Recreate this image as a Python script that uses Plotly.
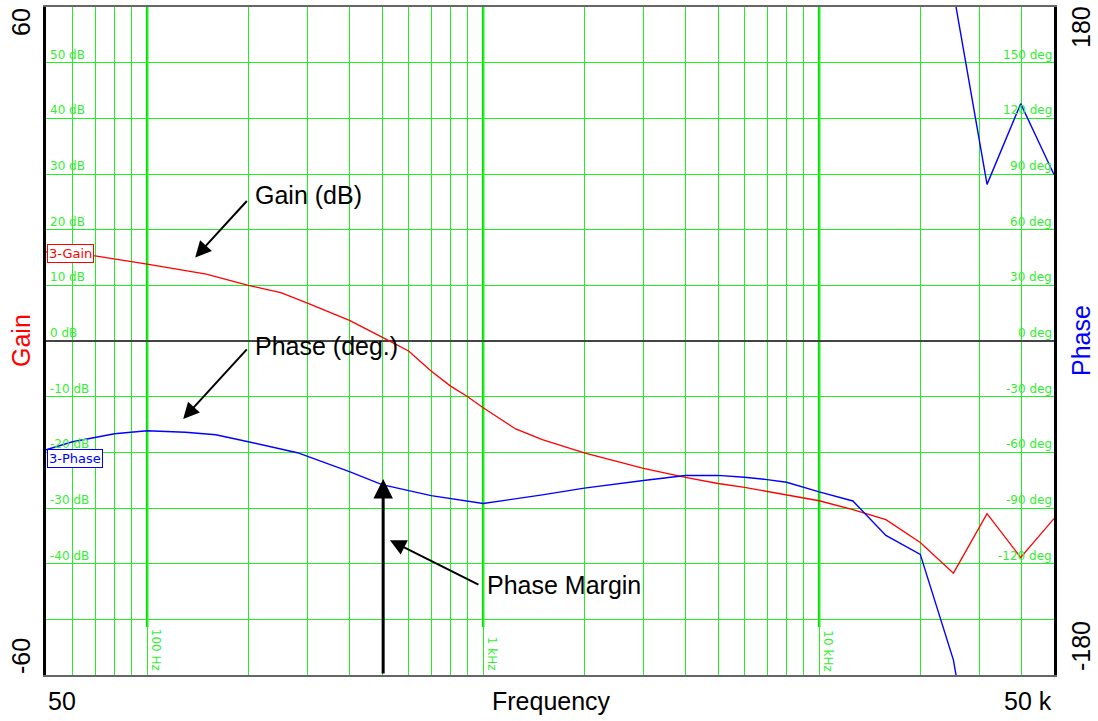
import math
import plotly.graph_objects as go

# ---- data ----
gain_freq = [50, 60, 70, 100, 150, 200, 250, 300, 400, 500, 600, 700, 800, 900,
             1000, 1250, 1500, 2000, 3000, 4000, 5000, 6000, 7000, 8000, 10000,
             12600, 15800, 20000, 25100, 31600, 39800, 50000]
gain_db = [16.0, 15.6, 15.3, 13.8, 12.0, 10.0, 8.7, 6.8, 3.7, 0.7, -1.8, -5.4, -8.1, -10.0,
           -12.0, -15.8, -17.7, -20.1, -22.9, -24.5, -25.6, -26.3, -27.0, -27.6, -28.7,
           -30.3, -32.1, -36.2, -41.7, -31.0, -38.9, -31.9]

phase_freq = [50, 60, 80, 100, 130, 160, 200, 280, 400, 500, 700, 1000, 1500, 2000,
              3000, 4000, 5000, 6000, 7000, 8000, 10000, 12600, 15800, 20000,
              25100, 31600, 39800, 50000]
# unwrapped phase (deg); values below -180 reappear from the top
phase_deg = [-58.6, -54.3, -50.0, -48.4, -49.2, -50.5, -54.3, -60.2, -70.4, -77.4,
             -83.3, -87.6, -82.9, -79.3, -75.2, -72.5, -72.4, -73.4, -74.7, -76.1,
             -81.3, -86.2, -104.8, -115.0, -172.0, -275.6, -232.1, -270.3]

gain_ticks = [50, 40, 30, 20, 10, 0, -10, -20, -30, -40]
phase_ticks = [150, 120, 90, 60, 30, 0, -30, -60, -90, -120]
decade_freqs = [100, 1000, 10000]
decade_labels = ["100 Hz", "1 kHz", "10 kHz"]

F_MIN, F_MAX = 50, 50000
GRID = "#22f022"
GRID_TXT = "#33ee33"
MAIN_FONT = "Liberation Sans, Arial, sans-serif"
GRID_FONT = "DejaVu Sans, Verdana, sans-serif"


def xfrac(f):
    return (math.log10(f) - math.log10(F_MIN)) / (math.log10(F_MAX) - math.log10(F_MIN))


fig = go.Figure()

fig.add_trace(go.Scatter(x=gain_freq, y=gain_db, mode="lines",
                         line=dict(color="#ff0000", width=1.3), yaxis="y",
                         showlegend=False, hoverinfo="skip"))
fig.add_trace(go.Scatter(x=phase_freq, y=phase_deg, mode="lines",
                         line=dict(color="#0000ff", width=1.4), yaxis="y2",
                         showlegend=False, hoverinfo="skip"))
# wrapped copy (+360) so the part below -180 shows up from the top
fig.add_trace(go.Scatter(x=phase_freq, y=[p + 360 for p in phase_deg], mode="lines",
                         line=dict(color="#0000ff", width=1.4), yaxis="y2",
                         showlegend=False, hoverinfo="skip"))

shapes = []
for f in decade_freqs:
    shapes.append(dict(type="line", xref="x domain", yref="y domain",
                       x0=xfrac(f), x1=xfrac(f), y0=0.072, y1=1,
                       line=dict(color="#00e000", width=2.5), layer="below"))

ann = []
# grid value labels
for g in gain_ticks:
    ann.append(dict(x=0, xref="paper", y=g, yref="y", text=f"{g} dB",
                    xanchor="left", yanchor="bottom", xshift=3, showarrow=False,
                    borderpad=0,
                    font=dict(family=GRID_FONT, size=12, color=GRID_TXT)))
for p in phase_ticks:
    ann.append(dict(x=1, xref="paper", y=p, yref="y2", text=f"{p} deg",
                    xanchor="right", yanchor="bottom", xshift=-1, showarrow=False,
                    borderpad=0,
                    font=dict(family=GRID_FONT, size=12, color=GRID_TXT)))
for f, lab in zip(decade_freqs, decade_labels):
    ann.append(dict(x=math.log10(f), xref="x", y=0, yref="paper", text=lab,
                    textangle=90, xanchor="left", yanchor="bottom", xshift=1, yshift=3,
                    showarrow=False, bgcolor="white", borderpad=0,
                    font=dict(family=GRID_FONT, size=12, color=GRID_TXT)))

# trace tags
ann.append(dict(x=0, xref="paper", y=gain_db[0] - 0.3, yref="y", text="3-Gain",
                xanchor="left", yanchor="middle", xshift=1, showarrow=False,
                bgcolor="white", bordercolor="#ff0000", borderwidth=1, borderpad=1,
                font=dict(family=GRID_FONT, size=13, color="#ff0000")))
ann.append(dict(x=0, xref="paper", y=-21.1, yref="y", text="3-Phase",
                xanchor="left", yanchor="middle", xshift=1, showarrow=False,
                bgcolor="white", bordercolor="#0000ff", borderwidth=1, borderpad=1,
                font=dict(family=GRID_FONT, size=13, color="#0000ff")))

# callouts
txt_font = dict(family=MAIN_FONT, size=25, color="black")
ann.append(dict(x=math.log10(207), xref="x", y=26.3, yref="y", text="Gain (dB)",
                xanchor="left", yanchor="middle", showarrow=False, font=txt_font))
ann.append(dict(x=math.log10(207), xref="x", y=-0.9, yref="y", text="Phase (deg.)",
                xanchor="left", yanchor="middle", showarrow=False, font=txt_font))
ann.append(dict(x=math.log10(1013), xref="x", y=-43.9, yref="y", text="Phase Margin",
                xanchor="left", yanchor="middle", showarrow=False, font=txt_font))

arrow = dict(showarrow=True, text="", arrowhead=2, arrowsize=1.6, arrowwidth=2,
             arrowcolor="black", xref="x", yref="y")
ann.append(dict(arrow, x=math.log10(139), y=15.0, ax=53, ay=-58))
ann.append(dict(arrow, x=math.log10(128), y=-14.0, ax=65, ay=-71))
ann.append(dict(arrow, x=math.log10(528), y=-35.8, ax=90, ay=45))
ann.append(dict(arrow, x=math.log10(504), y=-24.8, ax=0, ay=196,
                arrowwidth=3, arrowsize=1.3))

# outer axis texts
out_font = dict(family=MAIN_FONT, size=25, color="black")


def px(xp, yp):
    return (xp - 46) / 1008, (675 - yp) / 670


for t, (xp, yp), ang, col in [("60", (21, 20), -90, "black"),
                              ("-60", (21, 656), -90, "black"),
                              ("Gain", (21, 340), -90, "#ff0000"),
                              ("180", (1081, 25), -90, "black"),
                              ("-180", (1081, 646), -90, "black"),
                              ("Phase", (1081, 340), -90, "#0000ff"),
                              ("50", (62, 701), 0, "black"),
                              ("Frequency", (551, 701), 0, "black")]:
    xx, yy = px(xp, yp)
    ann.append(dict(x=xx, y=yy, xref="paper", yref="paper", text=t, textangle=ang,
                    xanchor="center", yanchor="middle", showarrow=False,
                    font=dict(out_font, color=col)))
ann.append(dict(x=1, y=px(0, 701)[1], xref="paper", yref="paper", text="50 k",
                xanchor="right", yanchor="middle", showarrow=False, font=out_font))

fig.update_layout(
    width=1098, height=721,
    margin=dict(l=46, r=44, t=5, b=46),
    paper_bgcolor="white", plot_bgcolor="white",
    showlegend=False,
    xaxis=dict(type="log", range=[math.log10(F_MIN), math.log10(F_MAX)],
               dtick="D1", showgrid=True, gridcolor=GRID, gridwidth=1,
               showticklabels=False, ticks="", zeroline=False,
               showline=True, linecolor="#666666", linewidth=2, mirror=True),
    yaxis=dict(range=[-60, 60], dtick=10, tick0=0, showgrid=True, gridcolor=GRID,
               gridwidth=1, showticklabels=False, ticks="",
               zeroline=True, zerolinecolor="#444444", zerolinewidth=1.5,
               showline=True, linecolor="black", linewidth=3, mirror=True),
    yaxis2=dict(range=[-180, 180], overlaying="y", side="right", showgrid=False,
                showticklabels=False, ticks="", zeroline=False, showline=False),
    shapes=shapes,
    annotations=ann,
)

fig.write_html("out.html", config={"displayModeBar": False},
               post_script="document.body.style.margin='0';")
